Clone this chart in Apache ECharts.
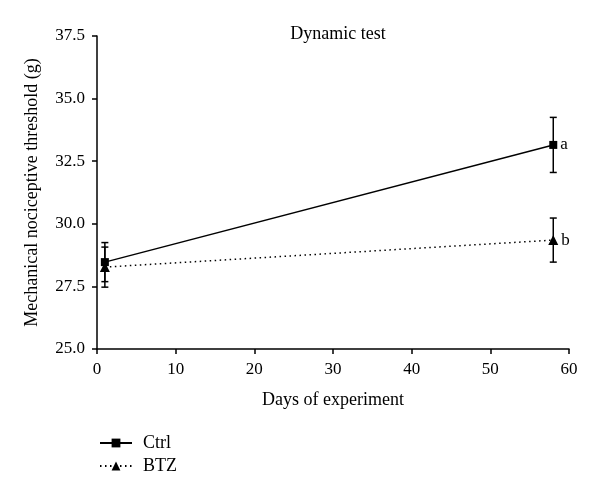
<!DOCTYPE html>
<html>
<head>
<meta charset="utf-8">
<script src="https://cdn.jsdelivr.net/npm/echarts@6/dist/echarts.min.js"></script>
<style>html,body{margin:0;padding:0;background:#fff}#c{width:600px;height:497px}</style>
</head>
<body>
<div id="c"></div>
<script>
var days = [1, 58];
var ctrlMean = [28.47, 33.15];
var ctrlErr = [0.78, 1.1];
var btzMean = [28.27, 29.35];
var btzErr = [0.8, 0.88];
var ctrlLetters = ['', 'a'];
var btzLetters = ['', 'b'];
var yTicks = [25.0, 27.5, 30.0, 32.5, 35.0, 37.5];
var xTicks = [0, 10, 20, 30, 40, 50, 60];

var FONT = '"Liberation Serif", "DejaVu Serif", serif';

function errData(m, e) {
  return days.map(function (d, i) { return [d, m[i] - e[i], m[i] + e[i]]; });
}
function errRender(params, api) {
  var x = api.value(0);
  var lo = api.coord([x, api.value(1)]);
  var hi = api.coord([x, api.value(2)]);
  var w = 3.5;
  var st = { stroke: '#000', lineWidth: 1.5 };
  return {
    type: 'group',
    children: [
      { type: 'line', shape: { x1: hi[0], y1: hi[1], x2: lo[0], y2: lo[1] }, style: st },
      { type: 'line', shape: { x1: hi[0] - w, y1: hi[1], x2: hi[0] + w, y2: hi[1] }, style: st },
      { type: 'line', shape: { x1: lo[0] - w, y1: lo[1], x2: lo[0] + w, y2: lo[1] }, style: st }
    ]
  };
}
function pts(m, letters) {
  return days.map(function (d, i) { return { value: [d, m[i]], letter: letters[i] }; });
}

var chart = echarts.init(document.getElementById('c'));
chart.setOption({
  animation: false,
  textStyle: { fontFamily: FONT, color: '#000' },
  title: {
    text: 'Dynamic test', left: 333, top: 20, textAlign: 'center',
    textStyle: { fontFamily: FONT, fontSize: 18, fontWeight: 'normal', color: '#000' }
  },
  legend: {
    orient: 'vertical', left: 94, top: 429, itemWidth: 32, itemHeight: 11, itemGap: 5,
    textStyle: { fontFamily: FONT, fontSize: 18, color: '#000', padding: [0, 0, 0, 6] },
    data: ['Ctrl', 'BTZ']
  },
  grid: { left: 97, right: 31, top: 36, bottom: 148, containLabel: false },
  xAxis: {
    type: 'value', min: 0, max: 60, interval: 10,
    name: 'Days of experiment', nameLocation: 'middle', nameGap: 42,
    nameTextStyle: { fontFamily: FONT, fontSize: 18, color: '#000' },
    axisLine: { onZero: false, lineStyle: { color: '#000', width: 1.5 } },
    axisTick: { show: true, length: 5, lineStyle: { color: '#000', width: 1.5 } },
    axisLabel: { fontFamily: FONT, fontSize: 17, color: '#000', margin: 12,
      customValues: xTicks },
    splitLine: { show: false }
  },
  yAxis: {
    type: 'value', min: 25, max: 37.5, interval: 2.5,
    name: 'Mechanical nociceptive threshold (g)', nameLocation: 'middle', nameGap: 56,
    nameTextStyle: { fontFamily: FONT, fontSize: 18, color: '#000' },
    axisLine: { show: true, lineStyle: { color: '#000', width: 1.5 } },
    axisTick: { show: true, length: 5, lineStyle: { color: '#000', width: 1.5 } },
    axisLabel: { fontFamily: FONT, fontSize: 17, color: '#000', margin: 12,
      customValues: yTicks,
      formatter: function (v) { return v.toFixed(1); } },
    splitLine: { show: false }
  },
  series: [
    {
      name: 'Ctrl', type: 'line', data: pts(ctrlMean, ctrlLetters),
      symbol: 'rect', symbolSize: 8, z: 5,
      lineStyle: { color: '#000', width: 1.5, type: 'solid' },
      itemStyle: { color: '#000' },
      label: { show: true, position: 'right', distance: 3, fontFamily: FONT, fontSize: 17, color: '#000',
        formatter: function (p) { return p.data.letter; } }
    },
    {
      name: 'BTZ', type: 'line', data: pts(btzMean, btzLetters),
      symbol: 'triangle', symbolSize: 10, z: 5,
      lineStyle: { color: '#000', width: 1.5, type: [1.5, 3.5] },
      itemStyle: { color: '#000' },
      label: { show: true, position: 'right', distance: 3, fontFamily: FONT, fontSize: 17, color: '#000',
        formatter: function (p) { return p.data.letter; } }
    },
    { type: 'custom', data: errData(ctrlMean, ctrlErr), renderItem: errRender, z: 4, silent: true },
    { type: 'custom', data: errData(btzMean, btzErr), renderItem: errRender, z: 4, silent: true }
  ]
});
</script>
</body>
</html>
